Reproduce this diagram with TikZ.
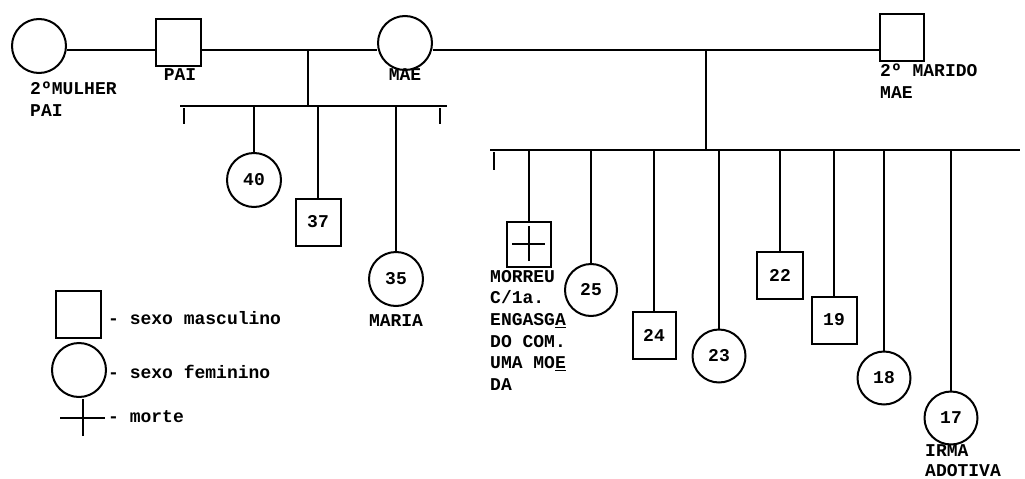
\documentclass[tikz,border=0pt]{standalone}
\usepackage{fontspec}
\setmonofont{Liberation Mono}
\usetikzlibrary{positioning}
\tikzset{
  txt/.style={font=\ttfamily\bfseries\fontsize{18}{21.6}\selectfont},
  male/.style={draw, line width=2pt, minimum width=45pt, minimum height=47pt, inner sep=0pt, txt},
  female/.style={draw, circle, line width=2pt, minimum size=54pt, inner sep=0pt, txt},
  tag/.style={txt, inner sep=0pt, align=left},
  kin/.style={line width=2pt},
  stub/.style={line width=1.2pt}
}

\begin{document}
\begin{tikzpicture}[x=1pt,y=-1pt]
  \useasboundingbox (0,0) rectangle (1025,479);

  % pais e casamentos
  \node[female] (mulher2) at (39,46) {};
  \node[male] (pai) at (178,42) {};
  \node[female] (mae) at (405,43) {};
  \node[male, minimum width=44pt] (marido2) at (902,37) {};
  \node[tag, anchor=north west] (tmulher) at (30,82) {2ºMULHER\\PAI};
  \node[tag, anchor=north] (tpai) at (180,68) {PAI};
  \node[tag, anchor=north] (tmae) at (405,68) {MAE};
  \node[tag, anchor=north west] (tmarido) at (880,64) {2º MARIDO\\MAE};

  \coordinate (cas1) at (308,50);
  \coordinate (cas2) at (706,50);
  \draw[kin] (mulher2.east |- cas1) -- (pai.west |- cas1);
  \draw[kin] (pai.east |- cas1) -- (mae.west |- cas1);
  \draw[kin] (mae.east |- cas1) -- (marido2.west |- cas1);

  % filhos do primeiro casamento
  \coordinate (fil1) at (308,106);
  \coordinate (fil1a) at (180,106);
  \coordinate (fil1b) at (447,106);
  \node[female] (f40) at (254,180) {40};
  \node[male] (m37) at (318,222) {37};
  \node[female] (f35) at (396,279) {35};
  \node[tag, anchor=north] (tmaria) at (396,314) {MARIA};

  \draw[kin] (cas1) -- (fil1);
  \draw[kin] (fil1a) -- (fil1b);
  \draw[stub] (184,108) -- (184,124);
  \draw[stub] (440,108) -- (440,124);
  \draw[kin] (f40.north |- fil1) -- (f40.north);
  \draw[kin] (m37.north |- fil1) -- (m37.north);
  \draw[kin] (f35.north |- fil1) -- (f35.north);

  % filhos do segundo casamento
  \coordinate (fil2) at (706,150);
  \coordinate (fil2a) at (490,150);
  \coordinate (fil2b) at (1020,150);
  \node[male, minimum width=44pt, minimum height=45pt] (morto) at (529,244) {};
  \node[female, minimum size=52pt] (f25) at (591,290) {25};
  \node[male, minimum width=43pt] (m24) at (654,335) {24};
  \node[female, minimum size=53pt] (f23) at (719,356) {23};
  \node[male, minimum width=46pt] (m22) at (780,275) {22};
  \node[male] (m19) at (834,320) {19};
  \node[female, minimum size=53pt] (f18) at (884,378) {18};
  \node[female, minimum size=53pt] (f17) at (951,418) {17};
  \node[tag, anchor=north west] (tmorto) at (490,270)
    {MORREU\\C/1a.\\ENGASG\underline{A}\\DO COM.\\UMA MO\underline{E}\\DA};
  \node[tag, anchor=north west, font=\ttfamily\bfseries\fontsize{18}{20}\selectfont] (tadot) at (925,444) {IRMA\\ADOTIVA};

  \draw[kin] (cas2) -- (fil2);
  \draw[kin] (fil2a) -- (fil2b);
  \draw[stub] (494,152) -- (494,170);
  \draw[kin] (morto.north |- fil2) -- (morto.north);
  \draw[kin] (f25.north |- fil2) -- (f25.north);
  \draw[kin] (m24.north |- fil2) -- (m24.north);
  \draw[kin] (f23.north |- fil2) -- (f23.north);
  \draw[kin] (m22.north |- fil2) -- (m22.north);
  \draw[kin] (m19.north |- fil2) -- (m19.north);
  \draw[kin] (f18.north |- fil2) -- (f18.north);
  \draw[kin] (f17.north |- fil2) -- (f17.north);
  \draw[stub] ([xshift=-17pt]morto.center) -- ([xshift=16pt]morto.center);
  \draw[stub] ([yshift=-17pt]morto.center) -- ([yshift=18pt]morto.center);

  % legenda
  \node[male] (legm) at (78,314) {};
  \node[female] (legf) at (79,370) {};
  \coordinate (legx) at (83,418);
  \draw[kin] ([xshift=-23pt]legx) -- ([xshift=22pt]legx);
  \draw[kin] ([yshift=-18pt]legx) -- ([yshift=19pt]legx);
  \node[tag, anchor=west] (tlegm) at (108,318) {- sexo masculino};
  \node[tag, anchor=west] (tlegf) at (108,372) {- sexo feminino};
  \node[tag, anchor=west] (tlegx) at (108,417) {- morte};
\end{tikzpicture}
\end{document}
